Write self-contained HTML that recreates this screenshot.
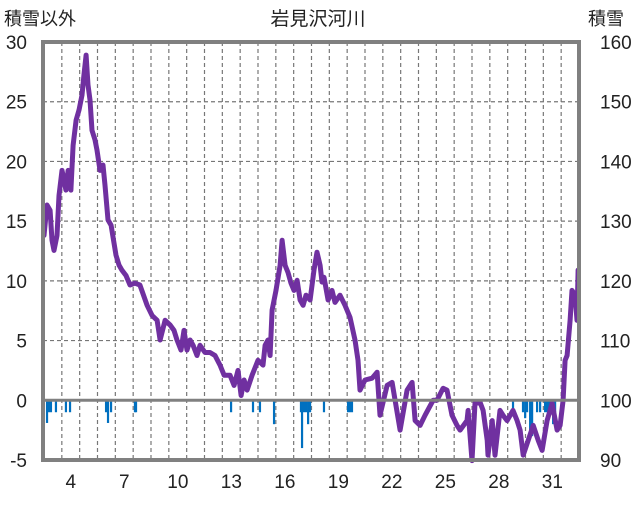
<!DOCTYPE html>
<html><head><meta charset="utf-8"><style>
html,body{margin:0;padding:0;background:#fff;}
svg text{font-family:"Liberation Sans","Noto Sans CJK JP",sans-serif;fill:#222;}
</style></head><body>
<svg id="chart" width="636" height="501" viewBox="0 0 636 501" xmlns="http://www.w3.org/2000/svg">
<text x="318" y="25" font-size="19" text-anchor="middle">岩見沢河川</text>
<text x="4" y="25" font-size="18">積雪以外</text>
<text x="588" y="25" font-size="18">積雪</text>
<g id="grid"></g><g id="bars"></g><g id="line"></g><g id="axes"></g>
</svg>
<script>
const leftTicks=[30,25,20,15,10,5,0,-5];
const rightTicks=[160,150,140,130,120,110,100,90];
const xTicks=[4,7,10,13,16,19,22,25,28,31];
const snowDays=[3.00,3.17,3.34,3.45,3.56,3.73,3.84,4.01,4.12,4.23,4.35,4.51,4.63,4.80,4.96,5.13,5.24,5.36,5.47,5.58,5.69,5.86,5.97,6.14,6.31,6.42,6.59,6.76,7.04,7.21,7.37,7.60,7.82,8.10,8.38,8.78,9.06,9.34,9.51,9.79,10.07,10.29,10.46,10.68,10.85,11.02,11.19,11.36,11.58,11.75,12.03,12.31,12.59,12.87,13.10,13.43,13.66,13.88,14.05,14.22,14.39,14.67,15.00,15.28,15.40,15.56,15.68,15.79,16.01,16.24,16.35,16.52,16.68,16.85,17.02,17.19,17.36,17.53,17.69,17.92,18.14,18.31,18.48,18.59,18.70,18.93,19.15,19.32,19.60,19.88,20.16,20.44,20.61,20.72,21.00,21.40,21.68,21.84,22.24,22.52,22.69,22.97,23.36,23.64,23.81,24.09,24.37,24.82,25.04,25.38,25.60,25.88,26.16,26.33,26.72,26.78,27.00,27.17,27.45,27.62,27.85,27.90,28.13,28.29,28.57,28.74,28.97,29.30,29.53,29.70,29.87,30.15,30.43,30.71,30.93,31.21,31.49,31.77,31.94,32.11,32.22,32.33,32.50,32.61,32.78,32.89,32.95];
const snowDepth=[127.6,132.7,131.8,126.8,125.1,127.6,134.3,138.5,136.9,135.2,138.5,135.2,142.7,146.9,148.6,151.1,154.4,157.8,152.8,150.3,145.2,143.6,141.9,138.5,139.4,136.0,130.2,129.3,124.3,122.6,121.8,120.9,119.3,119.6,119.3,115.9,114.2,113.4,110.1,113.4,112.6,111.7,110.1,108.4,111.7,108.4,110.1,109.2,107.5,109.2,108.0,108.0,107.5,105.9,104.2,104.2,102.5,105.0,100.8,103.4,101.7,104.2,106.7,105.9,109.2,110.1,107.5,115.1,118.4,122.6,126.8,122.6,121.4,119.6,118.4,120.1,116.8,115.9,117.6,116.8,121.8,124.8,122.6,119.8,120.6,116.8,118.4,116.4,117.6,115.9,113.9,110.1,106.7,101.7,103.4,103.7,104.7,97.5,102.5,103.0,100.0,95.0,101.7,103.0,96.6,95.8,97.5,100.0,100.0,102.0,101.7,97.5,95.8,95.0,96.6,98.3,89.9,99.5,99.7,98.3,93.3,90.8,96.6,90.8,98.3,97.5,96.6,98.3,96.6,95.0,90.8,93.3,95.8,93.3,91.6,96.6,99.5,95.0,95.8,100.0,106.7,107.5,113.4,118.4,117.6,113.4,121.8,120.9];
const otherDays=[3.17,3.28,3.39,3.67,4.23,4.46,6.48,6.59,6.76,8.10,8.16,13.49,14.72,15.11,15.9,17.41,17.47,17.58,17.69,17.81,17.92,18.7,20.05,20.16,20.27,29.3,29.86,29.98,30.09,30.26,30.37,30.65,30.82,31.10,31.21,31.32,31.44,31.55,31.66];
const otherVals=[-1.9,-1,-1,-1,-1,-1,-1,-1.9,-1,-1,-1,-1,-1,-1,-2,-1,-4,-1,-1,-2,-1,-1,-1,-1,-1,-1,-1,-1.5,-1,-3,-3,-1,-1,-1,-1,-1,-1,-2,-1];

const L=43,R=579,T=42,B=460,NS="http://www.w3.org/2000/svg";
const xS=d=>44+(d-3)*(535/30);
const yL=v=>T+(30-v)*(B-T)/35;
const yR=v=>T+(160-v)*(B-T)/70;
function mk(tag,attrs,parent){const e=document.createElementNS(NS,tag);for(const k in attrs)e.setAttribute(k,attrs[k]);document.getElementById(parent).appendChild(e);return e;}
for(let d=4;d<=32;d++){const x=xS(d);
const g=mk('line',{x1:x,x2:x,y1:T,y2:B,stroke:'#777','stroke-width':1.2,'stroke-dasharray':'4,3'},'grid');

}
leftTicks.forEach(v=>{if(v===30||v===-5||v===0)return;const y=yL(v);
const g=mk('line',{x1:L,x2:R,y1:y,y2:y,stroke:'#777','stroke-width':1.2,'stroke-dasharray':'4,3'},'grid');

});
otherDays.forEach((d,i)=>{const x=xS(d),y0=yL(0),y1=yL(otherVals[i]);
const b=mk('rect',{x:x-1.1,y:y0,width:2.2,height:y1-y0,fill:'#0070C0'},'bars');

});
const pts=snowDays.map((d,i)=>xS(d).toFixed(1)+','+yR(snowDepth[i]).toFixed(1)).join(' ');
const pl=mk('polyline',{points:pts,fill:'none',stroke:'#7030A0','stroke-width':5,'stroke-linejoin':'round','stroke-linecap':'round'},'line');


const z=mk('line',{x1:L,x2:R,y1:yL(0),y2:yL(0),stroke:'#808080','stroke-width':3},'axes');


const fr=mk('rect',{x:L,y:T,width:R-L,height:B-T,fill:'none',stroke:'#808080','stroke-width':4},'axes');


leftTicks.forEach(v=>{const t=mk('text',{x:27,y:yL(v)+7,'font-size':19,'text-anchor':'end'},'axes');t.textContent=v;

});
rightTicks.forEach(v=>{const t=mk('text',{x:600,y:yR(v)+7,'font-size':19},'axes');t.textContent=v;

});
xTicks.forEach(d=>{const t=mk('text',{x:xS(d)+9,y:488,'font-size':19,'text-anchor':'middle'},'axes');t.textContent=d;

});
</script>
</body></html>
